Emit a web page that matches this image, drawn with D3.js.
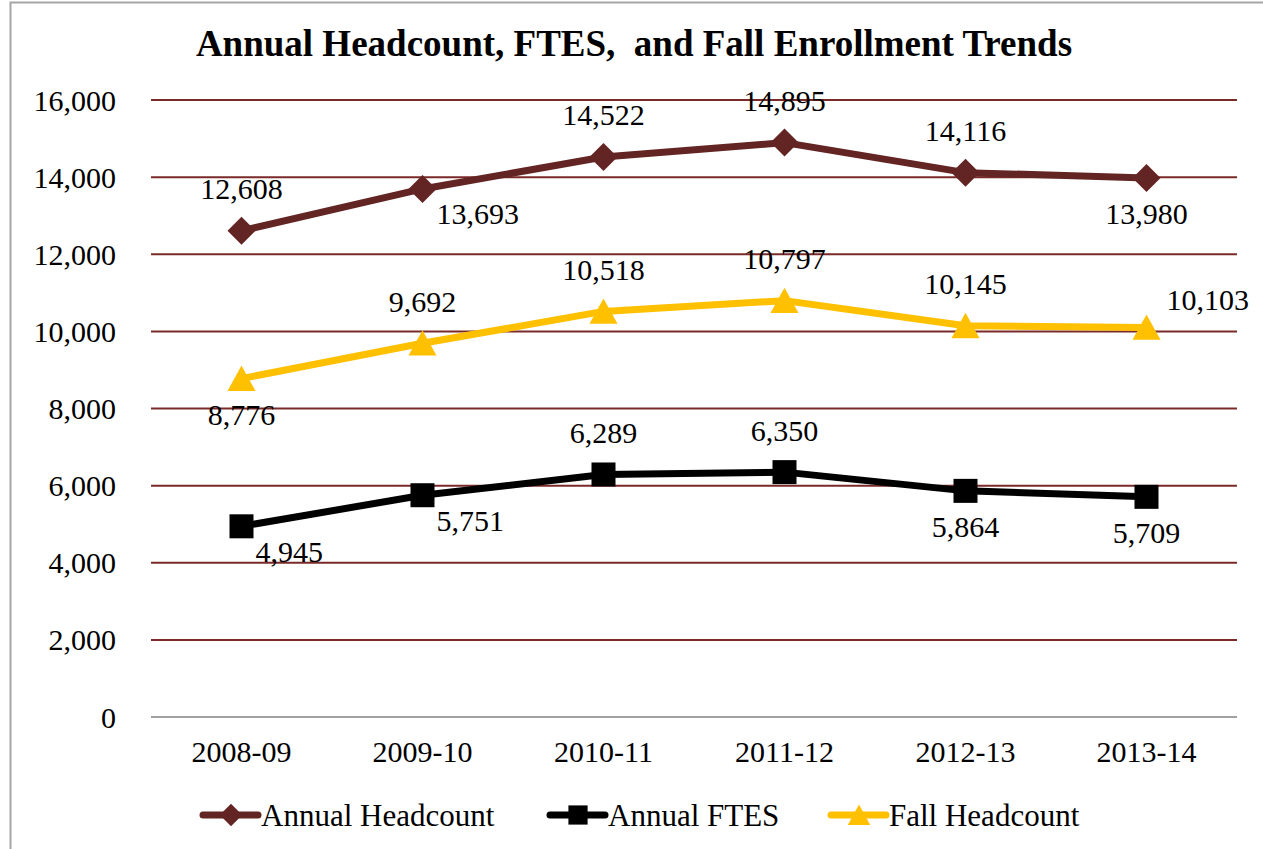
<!DOCTYPE html>
<meta charset="utf-8">
<style>
body { margin: 0; background: #fff; }
svg { font-family: "Liberation Serif", "Times New Roman", serif; }
.grid line { stroke: #7b2a2a; stroke-width: 2px; }
.tick-label { font-size: 30px; fill: #000; }
.val { font-size: 30px; fill: #000; }
.legend text { font-size: 31px; }
</style>
<body>
<svg id="chart" width="1263" height="849"></svg>
<script src="https://cdn.jsdelivr.net/npm/d3@7/dist/d3.min.js"></script>
<script>

var years = ["2008-09", "2009-10", "2010-11", "2011-12", "2012-13", "2013-14"];
var yTicks = [0, 2000, 4000, 6000, 8000, 10000, 12000, 14000, 16000];

var annualHeadcount = [12608, 13693, 14522, 14895, 14116, 13980];
var annualFtes      = [4945, 5751, 6289, 6350, 5864, 5709];
var fallHeadcount   = [8776, 9692, 10518, 10797, 10145, 10103];

// where each value label sits relative to its point
var headcountLabelPos = ["above", "belowRight", "above", "above", "above", "below"];
var ftesLabelPos      = ["belowRight", "belowRight", "above", "above", "below", "below"];
var fallLabelPos      = ["below", "above", "above", "above", "above", "aboveRight"];

var series = [
  { name: "Annual Headcount", values: annualHeadcount, pos: headcountLabelPos, color: "#632523", symbol: "diamond" },
  { name: "Annual FTES", values: annualFtes, pos: ftesLabelPos, color: "#000000", symbol: "square" },
  { name: "Fall Headcount", values: fallHeadcount, pos: fallLabelPos, color: "#FFC000", symbol: "triangle" }
];

var svg = d3.select("#chart");

// outer frame
svg.append("rect")
  .attr("x", 10.5).attr("y", 2.5)
  .attr("width", 1300).attr("height", 900)
  .attr("fill", "none")
  .attr("stroke", "#a6a6a6")
  .attr("stroke-width", 2);

var plotLeft = 151, plotRight = 1237, plotTop = 100, plotBottom = 717;

var x = d3.scaleBand().domain(years).range([plotLeft, plotRight]);
var y = d3.scaleLinear().domain([0, 16000]).range([plotBottom, plotTop]);
var fmt = d3.format(",");

svg.append("text")
  .attr("x", 634).attr("y", 56)
  .attr("text-anchor", "middle")
  .attr("font-size", "37px")
  .attr("font-weight", "bold")
  .style("white-space", "pre")
  .text("Annual Headcount, FTES,  and Fall Enrollment Trends");

// gridlines
svg.append("g").attr("class", "grid")
  .selectAll("line")
  .data(yTicks.filter(function(d) { return d > 0; }))
  .enter().append("line")
  .attr("x1", plotLeft).attr("x2", plotRight)
  .attr("y1", function(d) { return y(d); })
  .attr("y2", function(d) { return y(d); });

// base axis line
svg.append("line")
  .attr("x1", plotLeft).attr("x2", plotRight)
  .attr("y1", y(0)).attr("y2", y(0))
  .attr("stroke", "#a0a0a0").attr("stroke-width", 2);

svg.append("g")
  .selectAll("text")
  .data(yTicks)
  .enter().append("text")
  .attr("class", "tick-label")
  .attr("x", 116)
  .attr("y", function(d) { return y(d); })
  .attr("dy", "0.35em")
  .attr("text-anchor", "end")
  .text(function(d) { return fmt(d); });

svg.append("g")
  .selectAll("text")
  .data(years)
  .enter().append("text")
  .attr("class", "tick-label")
  .attr("x", function(d) { return x(d) + x.bandwidth() / 2; })
  .attr("y", 762)
  .attr("text-anchor", "middle")
  .text(function(d) { return d; });

var cx = function(i) { return x(years[i]) + x.bandwidth() / 2; };

var symbolTypes = {
  diamond: function(s) { return "M0," + (-s) + "L" + s + ",0L0," + s + "L" + (-s) + ",0Z"; },
  square: function(s) { return "M" + (-s) + "," + (-s) + "h" + (2 * s) + "v" + (2 * s) + "h" + (-2 * s) + "Z"; },
  triangle: function(s) { return "M0," + (-s) + "L" + (s * 1.08) + "," + (s * 0.95) + "L" + (-s * 1.08) + "," + (s * 0.95) + "Z"; }
};
var symbolSize = { diamond: 14, square: 12, triangle: 13 };

var line = d3.line()
  .x(function(d, i) { return cx(i); })
  .y(function(d) { return y(d); });

var offsets = {
  above: [0, -42, "middle"],
  below: [0, 36, "middle"],
  belowRight: [14, 25, "start"],
  aboveRight: [20, -28, "start"]
};

series.forEach(function(s) {
  var g = svg.append("g");
  g.append("path")
    .datum(s.values)
    .attr("d", line)
    .attr("fill", "none")
    .attr("stroke", s.color)
    .attr("stroke-width", 7)
    .attr("stroke-linejoin", "round");

  g.selectAll(".mark")
    .data(s.values)
    .enter().append("path")
    .attr("transform", function(d, i) { return "translate(" + cx(i) + "," + y(d) + ")"; })
    .attr("d", symbolTypes[s.symbol](symbolSize[s.symbol]))
    .attr("fill", s.color);

  g.selectAll(".val")
    .data(s.values)
    .enter().append("text")
    .attr("class", "val")
    .attr("x", function(d, i) { return cx(i) + offsets[s.pos[i]][0]; })
    .attr("y", function(d, i) { return y(d) + offsets[s.pos[i]][1]; })
    .attr("dy", "0.35em")
    .attr("text-anchor", function(d, i) { return offsets[s.pos[i]][2]; })
    .text(function(d) { return fmt(d); });
});

// legend
var legendX = [200, 547, 828];
var legend = svg.append("g").attr("class", "legend");
series.forEach(function(s, i) {
  var lg = legend.append("g").attr("transform", "translate(" + legendX[i] + ",815)");
  lg.append("line")
    .attr("x1", 3).attr("x2", 58)
    .attr("stroke", s.color).attr("stroke-width", 7)
    .attr("stroke-linecap", "round");
  lg.append("path")
    .attr("transform", "translate(31,0)")
    .attr("d", symbolTypes[s.symbol](symbolSize[s.symbol] * 0.8))
    .attr("fill", s.color);
  lg.append("text")
    .attr("x", 61).attr("dy", "0.35em")
    .text(s.name);
});
</script>
</body>
